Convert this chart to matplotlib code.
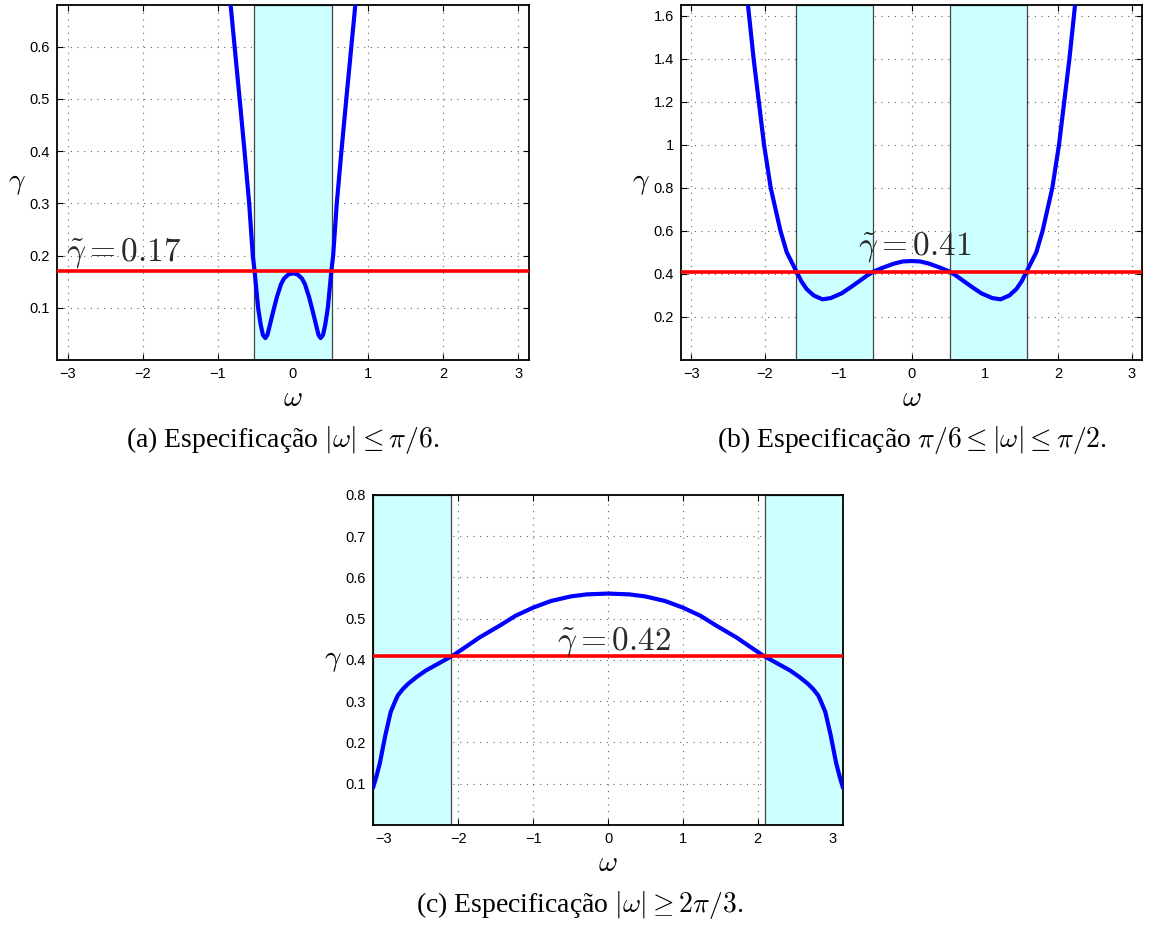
import numpy as np
import matplotlib
matplotlib.use("Agg")
import matplotlib.pyplot as plt
from matplotlib.ticker import FormatStrFormatter

plt.rcParams['mathtext.fontset'] = 'cm'

# (a) |w| <= pi/6
w_a = [-0.86, -0.83, -0.77, -0.71, -0.645, -0.583, -0.535, -0.511, -0.464, -0.43, -0.40, -0.368,
       -0.34, -0.311, -0.26, -0.215, -0.16, -0.12, -0.06, 0.0,
       0.06, 0.12, 0.16, 0.215, 0.26, 0.311, 0.34, 0.368, 0.40, 0.43, 0.464, 0.511, 0.535, 0.583,
       0.645, 0.71, 0.77, 0.83, 0.86]
g_a = [0.76, 0.68, 0.59, 0.50, 0.40, 0.30, 0.20, 0.17, 0.10, 0.068, 0.048, 0.042,
       0.048, 0.065, 0.095, 0.120, 0.145, 0.156, 0.164, 0.166,
       0.164, 0.156, 0.145, 0.120, 0.095, 0.065, 0.048, 0.042, 0.048, 0.068, 0.10, 0.17, 0.20, 0.30,
       0.40, 0.50, 0.59, 0.68, 0.76]
band_a = [(-np.pi / 6, np.pi / 6)]
gt_a = 0.17

# (b) pi/6 <= |w| <= pi/2
w_b = [-2.26, -2.229, -2.152, -2.081, -2.01, -1.919, -1.786, -1.70, -1.567, -1.50, -1.43, -1.333,
       -1.214, -1.10, -0.952, -0.83, -0.714, -0.60, -0.524, -0.40, -0.238, -0.12, 0.0,
       0.12, 0.238, 0.40, 0.524, 0.60, 0.714, 0.83, 0.952, 1.10, 1.214, 1.333, 1.43, 1.50,
       1.567, 1.70, 1.786, 1.919, 2.01, 2.081, 2.152, 2.229, 2.26]
g_b = [1.75, 1.65, 1.40, 1.20, 1.00, 0.80, 0.60, 0.50, 0.41, 0.365, 0.330, 0.300,
       0.282, 0.288, 0.310, 0.338, 0.366, 0.394, 0.41, 0.428, 0.448, 0.458, 0.460,
       0.458, 0.448, 0.428, 0.41, 0.394, 0.366, 0.338, 0.310, 0.288, 0.282, 0.300, 0.330, 0.365,
       0.41, 0.50, 0.60, 0.80, 1.00, 1.20, 1.40, 1.65, 1.75]
band_b = [(-np.pi / 2, -np.pi / 6), (np.pi / 6, np.pi / 2)]
gt_b = 0.41

# (c) |w| >= 2pi/3
w_c = [-3.1416, -3.10, -3.05, -2.976, -2.905, -2.85, -2.81, -2.74, -2.667, -2.55, -2.43, -2.25,
       -2.071, -1.90, -1.714, -1.45, -1.238, -1.00, -0.762, -0.50, -0.286, 0.0,
       0.286, 0.50, 0.762, 1.00, 1.238, 1.45, 1.714, 1.90, 2.071, 2.25, 2.43, 2.55, 2.667,
       2.74, 2.81, 2.85, 2.905, 2.976, 3.05, 3.10, 3.1416]
g_c = [0.090, 0.115, 0.150, 0.218, 0.274, 0.298, 0.314, 0.330, 0.343, 0.360, 0.375, 0.393,
       0.411, 0.432, 0.455, 0.483, 0.507, 0.527, 0.543, 0.554, 0.559, 0.561,
       0.559, 0.554, 0.543, 0.527, 0.507, 0.483, 0.455, 0.432, 0.411, 0.393, 0.375, 0.360, 0.343,
       0.330, 0.314, 0.298, 0.274, 0.218, 0.150, 0.115, 0.090]
band_c = [(-np.pi, -2 * np.pi / 3), (2 * np.pi / 3, np.pi)]
gt_c = 0.41

xticks = [-3, -2, -1, 0, 1, 2, 3]

fig = plt.figure(figsize=(11.58, 9.25), dpi=100)


def panel(rect, w, g, bands, gt, ylim, yticks, label, text_xy, text_ha):
    ax = fig.add_axes(rect)
    ax.set_axisbelow(True)
    for lo, hi in bands:
        ax.axvspan(lo, hi, facecolor='#ccffff', edgecolor='#444444', lw=0.9, zorder=1)
    ax.plot(w, g, color='#0000ff', lw=3.0, zorder=3, solid_capstyle='round')
    ax.axhline(gt, color='#ff0000', lw=2.6, zorder=4)
    ax.text(text_xy[0], text_xy[1], label, fontsize=24, ha=text_ha, va='baseline',
            color='#2a2a2a', zorder=5)
    ax.set_xlim(-np.pi, np.pi)
    ax.set_ylim(*ylim)
    ax.set_xticks(xticks)
    ax.set_yticks(yticks)
    ax.yaxis.set_major_formatter(FormatStrFormatter('%g'))
    ax.grid(True, ls=(0, (1, 5)), color='#666666', lw=0.8)
    ax.tick_params(direction='in', top=True, right=True, length=4, width=0.8,
                   labelsize=10.5, pad=5)
    for lab in ax.get_xticklabels() + ax.get_yticklabels():
        lab.set_family('Liberation Sans')
    for s in ax.spines.values():
        s.set_linewidth(1.3)
    ax.set_xlabel(r'$\omega$', fontsize=21, labelpad=2)
    ax.set_ylabel(r'$\gamma$', fontsize=21, rotation=0, labelpad=9, va='center')
    return ax


panel([0.0492, 0.6108, 0.4076, 0.3838], w_a, g_a, band_a, gt_a, (0, 0.68),
      [0.1, 0.2, 0.3, 0.4, 0.5, 0.6], r'$\tilde{\gamma} = 0.17$', (-3.02, 0.19), 'left')
panel([0.5881, 0.6108, 0.3981, 0.3838], w_b, g_b, band_b, gt_b, (0, 1.65),
      [0.2, 0.4, 0.6, 0.8, 1, 1.2, 1.4, 1.6], r'$\tilde{\gamma} = 0.41$', (0.05, 0.49), 'center')
panel([0.3221, 0.1081, 0.4059, 0.3568], w_c, g_c, band_c, gt_c, (0, 0.8),
      [0.1, 0.2, 0.3, 0.4, 0.5, 0.6, 0.7, 0.8], r'$\tilde{\gamma} = 0.42$', (0.08, 0.425), 'center')

cap_font = 'Liberation Serif'
fig.text(283 / 1158, 1 - 440 / 925, r'(a) Especificação $|\omega| \leq \pi/6$.',
         fontsize=20, ha='center', va='center', family=cap_font)
fig.text(912 / 1158, 1 - 440 / 925, r'(b) Especificação $\pi/6 \leq |\omega| \leq \pi/2$.',
         fontsize=20, ha='center', va='center', family=cap_font)
fig.text(580 / 1158, 1 - 905 / 925, r'(c) Especificação $|\omega| \geq 2\pi/3$.',
         fontsize=20, ha='center', va='center', family=cap_font)

fig.savefig('out.png', dpi=100)
